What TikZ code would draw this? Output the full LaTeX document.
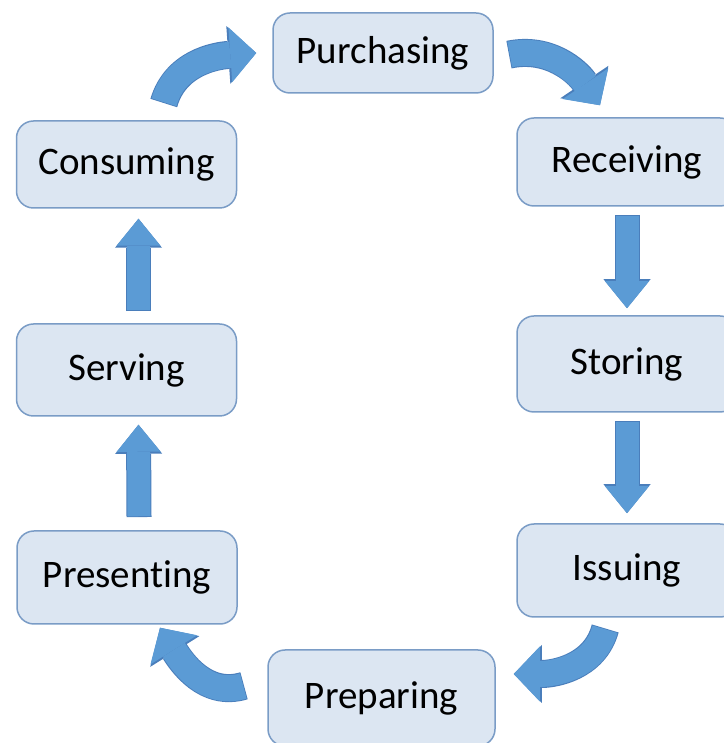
\documentclass[tikz,border=0pt]{standalone}
\usepackage{fontspec}
\setmainfont{Carlito}[Ligatures=NoCommon]
\usetikzlibrary{arrows.meta}
\definecolor{boxfill}{HTML}{DCE6F2}
\definecolor{boxline}{HTML}{7A9CC6}
\definecolor{arrowfill}{HTML}{5B9BD5}
\definecolor{arrowline}{HTML}{4A7EBB}

\begin{document}
\begin{tikzpicture}[x=1pt,y=1pt,
    stage/.style={draw=boxline,fill=boxfill,line width=1.5pt,rounded corners=17pt,
        minimum width=220pt,inner sep=0pt,font=\fontsize{39}{47}\selectfont},
    flow/.style={arrowfill,line width=23pt,
        -{Triangle[length=27pt,width=44pt,line width=0pt]},
        preaction={draw=arrowline,line width=25pt,shorten <=-0.8pt,
            -{Triangle[length=29pt,width=47pt,line width=0pt]}}},
    bendflow/.style={arrowfill,line width=26pt,
        -{Triangle[length=26pt,width=55pt,line width=0pt]},
        preaction={draw=arrowline,line width=28pt,shorten <=-0.8pt,
            -{Triangle[length=28pt,width=58pt,line width=0pt]}}}]
    \useasboundingbox (0,0) rectangle (723,743);
    \node[stage,minimum height=80pt] (purchasing) at (383,690) {Purchasing};
    \node[stage,minimum height=88pt] (receiving) at (627,581) {Receiving};
    \node[stage,minimum height=96pt] (storing) at (627,379) {Storing};
    \node[stage,minimum height=93pt] (issuing) at (627,172.5) {Issuing};
    \node[stage,minimum width=227pt,minimum height=96pt] (preparing) at (381.5,45) {Preparing};
    \node[stage,minimum height=93pt] (presenting) at (127,165.5) {Presenting};
    \node[stage,minimum height=92pt] (serving) at (126.5,373) {Serving};
    \node[stage,minimum height=87pt] (consuming) at (126.5,578.5) {Consuming};
    \draw[flow] ([yshift=-9pt]receiving.south) -- ([yshift=7pt]storing.north);
    \draw[flow] ([yshift=-9pt]storing.south) -- ([yshift=10pt]issuing.north);
    \draw[flow] ([xshift=12pt,yshift=14pt]presenting.north) -- ([xshift=12pt,yshift=-8pt]serving.south);
    \draw[flow] ([xshift=12pt,yshift=13pt]serving.north) -- ([xshift=12pt,yshift=-10pt]consuming.south);
    \draw[bendflow] ([xshift=37.5pt,yshift=18pt]consuming.north) to[out=74,in=184] ([xshift=-16pt]purchasing.west);
    \draw[bendflow] ([xshift=16pt,yshift=-1.5pt]purchasing.east) to[out=12,in=124] ([xshift=-27pt,yshift=12pt]receiving.north);
    \draw[bendflow] ([xshift=-22pt,yshift=-11.5pt]issuing.south) to[out=255,in=0] ([xshift=18pt,yshift=24pt]preparing.east);
    \draw[bendflow] ([xshift=-24pt,yshift=12pt]preparing.west) to[out=197,in=302] ([xshift=33pt,yshift=-3pt]presenting.south);
\end{tikzpicture}
\end{document}
